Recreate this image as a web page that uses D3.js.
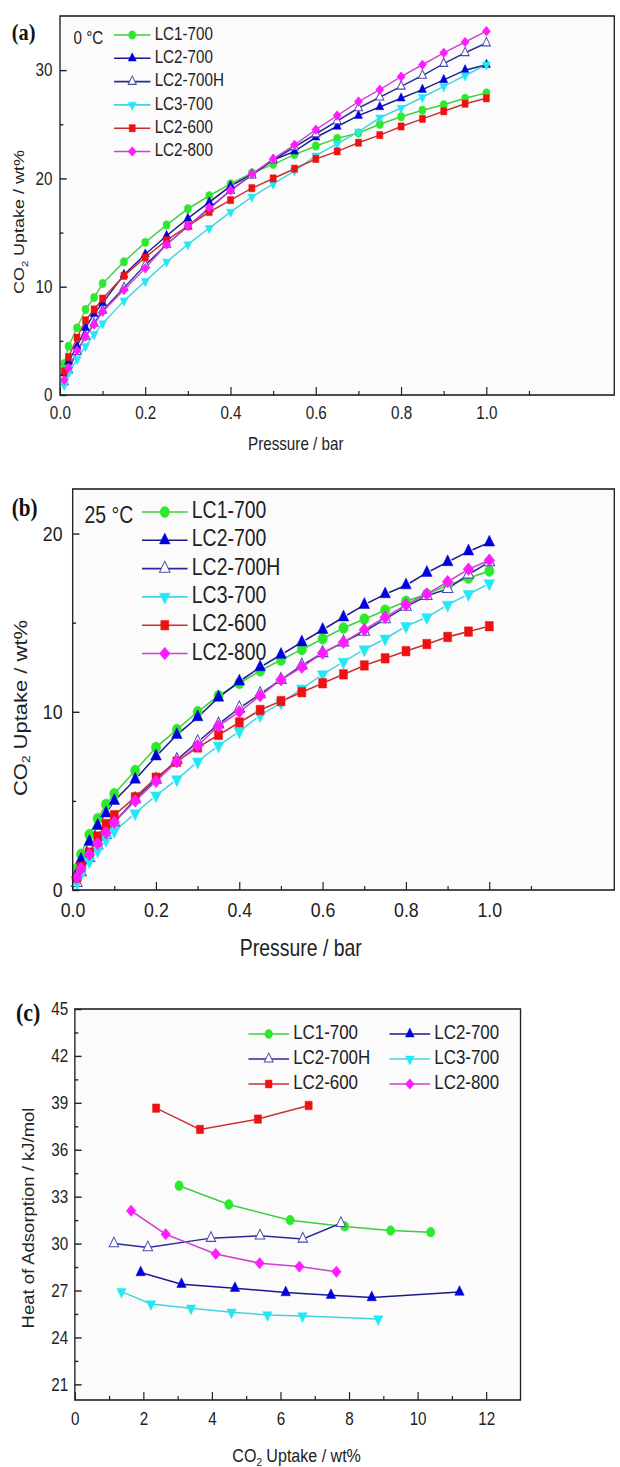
<!DOCTYPE html>
<html lang="en">
<head>
<meta charset="UTF-8" />
<title>CO2 uptake and heat of adsorption</title>
<script src="https://d3js.org/d3.v7.min.js"></script>
<style>
    body { margin: 0; background: #fff; }
    svg { display: block; font-family: "Liberation Sans", Arial, sans-serif; }
</style>
</head>
<body>
<script>
    // ---- data ----
    var names = ["LC1-700", "LC2-700", "LC2-700H", "LC3-700", "LC2-600", "LC2-800"];
    var pressure = [0.01, 0.02, 0.04, 0.06, 0.08, 0.10, 0.15, 0.20, 0.25, 0.30, 0.35, 0.40,
                    0.45, 0.50, 0.55, 0.60, 0.65, 0.70, 0.75, 0.80, 0.85, 0.90, 0.95, 1.00];

    // (a) 0 C uptake, wt%
    var lc1_0   = [2.9, 4.5, 6.2, 7.9, 9.0, 10.3, 12.3, 14.1, 15.7, 17.2, 18.4, 19.5, 20.5, 21.3, 22.2, 23.0, 23.7, 24.2, 25.0, 25.7, 26.3, 26.8, 27.4, 27.9];
    var lc2_0   = [2.0, 3.1, 4.5, 6.2, 7.5, 8.5, 11.1, 13.0, 14.7, 16.3, 17.8, 19.3, 20.4, 21.7, 22.5, 23.8, 24.8, 25.8, 26.6, 27.4, 28.2, 29.1, 30.0, 30.5];
    var lc2h_0  = [1.2, 2.3, 4.0, 5.4, 6.6, 7.8, 9.9, 12.0, 13.9, 15.6, 17.2, 18.9, 20.3, 21.7, 22.9, 24.1, 25.3, 26.5, 27.5, 28.5, 29.5, 30.6, 31.6, 32.5];
    var lc3_0   = [0.9, 2.0, 3.3, 4.5, 5.6, 6.6, 8.7, 10.5, 12.3, 13.9, 15.4, 16.9, 18.3, 19.5, 20.7, 22.1, 23.2, 24.3, 25.6, 26.5, 27.5, 28.5, 29.5, 30.5];
    var lc2600_0 = [2.2, 3.5, 5.3, 6.9, 7.9, 8.9, 11.0, 12.7, 14.3, 15.6, 16.9, 18.0, 19.1, 20.0, 20.9, 21.8, 22.5, 23.3, 24.0, 24.8, 25.5, 26.2, 26.9, 27.4];
    var lc2800_0 = [1.4, 2.5, 4.1, 5.4, 6.5, 7.7, 9.7, 11.7, 13.9, 15.6, 17.3, 18.9, 20.4, 21.8, 23.1, 24.5, 25.8, 27.1, 28.2, 29.4, 30.5, 31.6, 32.6, 33.6];

    // (b) 25 C uptake, wt%
    var lc1_25   = [1.2, 2.0, 3.1, 4.0, 4.8, 5.4, 6.7, 8.0, 9.0, 10.0, 10.9, 11.6, 12.3, 12.9, 13.5, 14.1, 14.7, 15.2, 15.7, 16.2, 16.6, 17.1, 17.5, 17.9];
    var lc2_25   = [0.9, 1.7, 2.7, 3.6, 4.3, 5.0, 6.2, 7.5, 8.7, 9.7, 10.8, 11.7, 12.5, 13.2, 13.9, 14.6, 15.3, 16.0, 16.6, 17.1, 17.8, 18.4, 19.0, 19.5];
    var lc2h_25  = [0.4, 1.0, 1.8, 2.5, 3.1, 3.8, 5.1, 6.2, 7.3, 8.3, 9.3, 10.2, 11.0, 11.8, 12.6, 13.3, 13.9, 14.5, 15.2, 15.9, 16.5, 16.9, 17.7, 18.4];
    var lc3_25   = [0.4, 0.9, 1.6, 2.2, 2.8, 3.3, 4.3, 5.3, 6.2, 7.2, 8.1, 8.9, 9.8, 10.5, 11.3, 12.1, 12.8, 13.5, 14.1, 14.8, 15.3, 16.0, 16.6, 17.2];
    var lc2600_25 = [0.7, 1.3, 2.1, 3.0, 3.7, 4.2, 5.2, 6.3, 7.2, 8.0, 8.7, 9.4, 10.1, 10.6, 11.1, 11.6, 12.1, 12.6, 13.0, 13.4, 13.8, 14.2, 14.5, 14.8];
    var lc2800_25 = [0.7, 1.2, 2.0, 2.6, 3.2, 3.8, 5.0, 6.1, 7.2, 8.1, 9.2, 10.0, 10.9, 11.8, 12.5, 13.3, 13.9, 14.6, 15.3, 16.0, 16.6, 17.3, 18.0, 18.5];

    // (c) heat of adsorption: uptake (wt%) and Qst (kJ/mol)
    var lc1_qx = [3.04, 4.49, 6.28, 7.87, 9.21, 10.38];
    var lc1_qy = [33.7, 32.5, 31.5, 31.1, 30.83, 30.73];
    var lc2_qx = [1.92, 3.11, 4.67, 6.15, 7.47, 8.66, 11.22];
    var lc2_qy = [28.15, 27.4, 27.15, 26.87, 26.7, 26.55, 26.9];
    var lc2h_qx = [1.14, 2.13, 3.97, 5.40, 6.65, 7.76];
    var lc2h_qy = [30.0, 29.75, 30.35, 30.5, 30.3, 31.3];
    var lc3_qx = [1.36, 2.22, 3.39, 4.57, 5.62, 6.64, 8.85];
    var lc3_qy = [26.93, 26.14, 25.87, 25.61, 25.44, 25.37, 25.18];
    var lc2600_qx = [2.37, 3.65, 5.34, 6.82];
    var lc2600_qy = [38.66, 37.3, 37.96, 38.83];
    var lc2800_qx = [1.64, 2.65, 4.11, 5.39, 6.55, 7.63];
    var lc2800_qy = [32.1, 30.6, 29.34, 28.75, 28.53, 28.2];

    // tick values
    var pTicks = [0, 0.2, 0.4, 0.6, 0.8, 1.0];
    var pMinor = [0.1, 0.3, 0.5, 0.7, 0.9, 1.1];
    var ticksA = [0, 10, 20, 30], minorA = [5, 15, 25];
    var ticksB = [0, 10, 20], minorB = [5, 15];
    var ticksCx = [0, 2, 4, 6, 8, 10, 12], minorCx = [1, 3, 5, 7, 9, 11];
    var ticksCy = [21, 24, 27, 30, 33, 36, 39, 42, 45], minorCy = [22.5, 25.5, 28.5, 31.5, 34.5, 37.5, 40.5, 43.5];

    // ---- styles ----
    var styles = [
        { shape: "circle",  fill: "#2ee82e", stroke: "#2ee82e", line: "#3ccf3c" },
        { shape: "up",      fill: "#0000dd", stroke: "#0000dd", line: "#1a1a8c" },
        { shape: "up",      fill: "#ffffff", stroke: "#4a4aa8", line: "#2a2a9a" },
        { shape: "down",    fill: "#22e8f5", stroke: "#22e8f5", line: "#40d4e0" },
        { shape: "square",  fill: "#ee1111", stroke: "#ee1111", line: "#c83030" },
        { shape: "diamond", fill: "#ff1aff", stroke: "#ff1aff", line: "#d040d0" }
    ];
    // triangles and diamonds look bigger than circles of the same area
    var shapeScale = { circle: 1, up: 0.72, down: 0.72, square: 0.95, diamond: 0.85 };

    var W = 620, H = 1467;
    var squash = 0.845;   // the figure is narrower than it is drawn here

    var svg = d3.select("body").append("svg")
        .attr("width", W)
        .attr("height", H);
    var root = svg.append("g").attr("transform", "scale(" + squash + ",1)");

    function zip(xs, ys) {
        return xs.map(function(d, i) { return [d, ys[i]]; });
    }

    function drawMarker(g, st, cx, cy, size) {
        var p, s = size * shapeScale[st.shape];
        if (st.shape == "circle") p = d3.symbol(d3.symbolCircle, s)();
        else if (st.shape == "up" || st.shape == "down") p = d3.symbol(d3.symbolTriangle, s)();
        else p = d3.symbol(d3.symbolSquare, s)();
        var rot = st.shape == "down" ? 180 : (st.shape == "diamond" ? 45 : 0);
        g.append("path")
            .attr("d", p)
            .attr("transform", "translate(" + cx + "," + cy + ") rotate(" + rot + ")")
            .attr("fill", st.fill)
            .attr("stroke", st.stroke)
            .attr("stroke-width", st.fill == "#ffffff" ? 1.1 : 0.5);
    }

    // text with a subscript "2" in CO2
    function co2Label(g, x, y, size, rotate, rest) {
        var t = g.append("text")
            .attr("text-anchor", "middle")
            .attr("dominant-baseline", "middle")
            .attr("font-size", size)
            .attr("fill", "#222")
            .attr("transform", "translate(" + x + "," + y + ")" + (rotate ? " rotate(-90)" : ""));
        t.append("tspan").text("CO");
        t.append("tspan").text("2").attr("font-size", size * 0.62).attr("dy", size * 0.3);
        t.append("tspan").text(rest).attr("dy", -size * 0.3);
        return t;
    }

    function drawPanel(o) {
        var g = root.append("g");
        var x = d3.scaleLinear().domain(o.xDomain).range([o.left, o.right]);
        var y = d3.scaleLinear().domain(o.yDomain).range([o.bottom, o.top]);

        g.append("rect")
            .attr("x", o.left).attr("y", o.top)
            .attr("width", o.right - o.left).attr("height", o.bottom - o.top)
            .attr("fill", "#fbfbfb");

        // x axis (ticks pointing inwards)
        var xa = g.append("g")
            .attr("transform", "translate(0," + o.bottom + ")")
            .style("color", "#222")
            .call(d3.axisBottom(x).tickValues(o.xTicks).tickFormat(o.xFormat)
                .tickSize(-8).tickPadding(o.xPad));
        var xm = g.append("g")
            .attr("transform", "translate(0," + o.bottom + ")")
            .style("color", "#222")
            .call(d3.axisBottom(x).tickValues(o.xMinor).tickFormat("").tickSize(-4));

        // y axis
        var ya = g.append("g")
            .attr("transform", "translate(" + o.left + ",0)")
            .style("color", "#222")
            .call(d3.axisLeft(y).tickValues(o.yTicks).tickFormat(d3.format("d"))
                .tickSize(-8).tickPadding(o.yPad));
        var ym = g.append("g")
            .attr("transform", "translate(" + o.left + ",0)")
            .style("color", "#222")
            .call(d3.axisLeft(y).tickValues(o.yMinor).tickFormat("").tickSize(-4));

        [xa, xm, ya, ym].forEach(function(a) {
            a.select(".domain").remove();
            a.attr("font-family", null).attr("font-size", null);
            a.selectAll("line").attr("stroke-width", 1.4);
            a.selectAll("text").attr("font-size", o.tickFont).attr("fill", "#222");
        });

        // series
        var line = d3.line()
            .x(function(d) { return x(d[0]); })
            .y(function(d) { return y(d[1]); });

        o.series.forEach(function(pts, i) {
            var st = styles[i];
            if (o.gap) {
                // short segments that stop before each symbol
                for (var k = 0; k < pts.length - 1; k++) {
                    var x0 = x(pts[k][0]), y0 = y(pts[k][1]);
                    var x1 = x(pts[k + 1][0]), y1 = y(pts[k + 1][1]);
                    var len = Math.hypot(x1 - x0, y1 - y0);
                    if (len <= 2 * o.gap) continue;
                    var ux = (x1 - x0) / len, uy = (y1 - y0) / len;
                    g.append("line")
                        .attr("x1", x0 + ux * o.gap).attr("y1", y0 + uy * o.gap)
                        .attr("x2", x1 - ux * o.gap).attr("y2", y1 - uy * o.gap)
                        .attr("stroke", st.line)
                        .attr("stroke-width", 1.6);
                }
            } else {
                g.append("path")
                    .datum(pts)
                    .attr("d", line)
                    .attr("fill", "none")
                    .attr("stroke", st.line)
                    .attr("stroke-width", 1.5);
            }
        });
        o.series.forEach(function(pts, i) {
            pts.forEach(function(d) {
                drawMarker(g, styles[i], x(d[0]), y(d[1]), o.markerSize);
            });
        });

        // frame
        g.append("rect")
            .attr("x", o.left).attr("y", o.top)
            .attr("width", o.right - o.left).attr("height", o.bottom - o.top)
            .attr("fill", "none")
            .attr("stroke", "#222")
            .attr("stroke-width", 1.6);

        // panel letter
        g.append("text")
            .attr("x", o.letterX).attr("y", o.letterY)
            .attr("dominant-baseline", "middle")
            .attr("font-family", "'Liberation Serif', 'Times New Roman', serif")
            .attr("font-weight", "bold")
            .attr("font-size", o.letterFont)
            .attr("fill", "#111")
            .text(o.letter);

        // legend
        var lg = g.append("g");
        var lt = lg.append("g");
        if (o.legendClip) {
            svg.append("clipPath").attr("id", o.legendClip.id)
                .append("rect").attr("x", 0).attr("y", 0)
                .attr("width", 2 * W).attr("height", o.legendClip.y);
            lt.attr("clip-path", "url(#" + o.legendClip.id + ")");
        }
        names.forEach(function(nm, i) {
            var p = o.legendPos(i);
            lg.append("line")
                .attr("x1", p.x).attr("x2", p.x + o.legendLine)
                .attr("y1", p.y).attr("y2", p.y)
                .attr("stroke", styles[i].line)
                .attr("stroke-width", 1.6);
            drawMarker(lg, styles[i], p.x + o.legendLine / 2, p.y, o.legendMarker);
            lt.append("text")
                .attr("x", p.x + o.legendLine + 5)
                .attr("y", p.y)
                .attr("dominant-baseline", "middle")
                .attr("font-size", o.legendFont)
                .attr("fill", "#222")
                .text(nm);
        });

        return { g: g, x: x, y: y };
    }

    // ---- (a) 0 C ----
    var pa = drawPanel({
        left: 71, right: 727, top: 16, bottom: 395,
        xDomain: [0, 1.3], yDomain: [0, 35],
        xTicks: pTicks, xMinor: pMinor, yTicks: ticksA, yMinor: minorA,
        xFormat: d3.format(".1f"), xPad: 11, yPad: 9, tickFont: 18,
        series: [lc1_0, lc2_0, lc2h_0, lc3_0, lc2600_0, lc2800_0].map(function(s) { return zip(pressure, s); }),
        markerSize: 55, gap: 0,
        letter: "(a)", letterX: 14, letterY: 35, letterFont: 24,
        legendPos: function(i) { return { x: 135, y: 35 + i * 23.3 }; },
        legendLine: 43, legendMarker: 55, legendFont: 18,
        legendClip: { id: "clipA", y: 157 }
    });
    pa.g.append("text").attr("x", 87).attr("y", 39).attr("dominant-baseline", "middle")
        .attr("font-size", 18).attr("fill", "#222").text("0 \u00B0C");
    pa.g.append("text").attr("x", 350).attr("y", 445).attr("text-anchor", "middle")
        .attr("dominant-baseline", "middle").attr("font-size", 18).attr("fill", "#222")
        .text("Pressure / bar");
    co2Label(pa.g, 24, 222, 18, true, " Uptake / wt%");

    // ---- (b) 25 C ----
    var pb = drawPanel({
        left: 86, right: 727, top: 489, bottom: 890,
        xDomain: [0, 1.3], yDomain: [0, 22.5],
        xTicks: pTicks, xMinor: pMinor, yTicks: ticksB, yMinor: minorB,
        xFormat: d3.format(".1f"), xPad: 12, yPad: 12, tickFont: 21,
        series: [lc1_25, lc2_25, lc2h_25, lc3_25, lc2600_25, lc2800_25].map(function(s) { return zip(pressure, s); }),
        markerSize: 95, gap: 5,
        letter: "(b)", letterX: 14, letterY: 510, letterFont: 25,
        legendPos: function(i) { return { x: 168, y: 512 + i * 28.3 }; },
        legendLine: 54, legendMarker: 95, legendFont: 23
    });
    pb.g.append("text").attr("x", 100).attr("y", 517).attr("dominant-baseline", "middle")
        .attr("font-size", 23).attr("fill", "#222").text("25 \u00B0C");
    pb.g.append("text").attr("x", 356).attr("y", 950).attr("text-anchor", "middle")
        .attr("dominant-baseline", "middle").attr("font-size", 23).attr("fill", "#222")
        .text("Pressure / bar");
    co2Label(pb.g, 26, 708, 22, true, " Uptake / wt%");

    // ---- (c) heat of adsorption ----
    var pc = drawPanel({
        left: 88.6, right: 616, top: 1009, bottom: 1400,
        xDomain: [0, 13], yDomain: [20, 45],
        xTicks: ticksCx, xMinor: minorCx, yTicks: ticksCy, yMinor: minorCy,
        xFormat: d3.format("d"), xPad: 12, yPad: 8, tickFont: 18,
        series: [zip(lc1_qx, lc1_qy), zip(lc2_qx, lc2_qy), zip(lc2h_qx, lc2h_qy),
                 zip(lc3_qx, lc3_qy), zip(lc2600_qx, lc2600_qy), zip(lc2800_qx, lc2800_qy)],
        markerSize: 75, gap: 0,
        letter: "(c)", letterX: 19, letterY: 1015, letterFont: 26,
        legendPos: function(i) { return { x: i % 2 == 0 ? 294 : 461, y: 1034 + Math.floor(i / 2) * 25 }; },
        legendLine: 48, legendMarker: 65, legendFont: 20
    });
    pc.g.append("text").attr("transform", "translate(35,1218) rotate(-90)")
        .attr("text-anchor", "middle").attr("dominant-baseline", "middle")
        .attr("font-size", 18.5).attr("fill", "#222")
        .text("Heat of Adsorption / kJ/mol");
    co2Label(pc.g, 351, 1457, 19, false, " Uptake / wt%");
</script>
</body>
</html>
